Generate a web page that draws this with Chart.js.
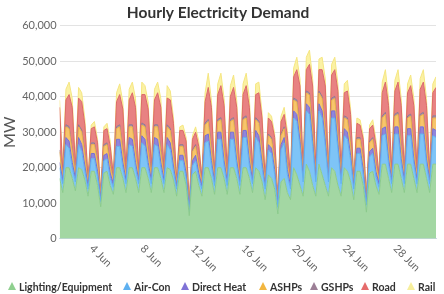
<!DOCTYPE html>
<html>
<head>
<meta charset="utf-8">
<script src="https://cdn.jsdelivr.net/npm/chart.js@4.4.1/dist/chart.umd.min.js"></script>
<style>
  html, body { margin: 0; padding: 0; background: #fff; }
  #wrap { position: relative; width: 444px; height: 294px; overflow: hidden; }
  #legend { position: absolute; left: 0; top: 280px; width: 444px; height: 14px;
    font: bold 10.5px Lato, "Open Sans", sans-serif; color: #333; }
  .item { position: absolute; top: 0; white-space: nowrap; line-height: 14px; }
  .tri { display: inline-block; width: 0; height: 0; margin-right: 3px; vertical-align: 1px;
    border-left: 4.5px solid transparent; border-right: 4.5px solid transparent; border-bottom: 8px solid #999; }
</style>
</head>
<body>
<div id="wrap">
  <canvas id="chart" width="444" height="294"></canvas>
  <div id="legend"></div>
</div>
<script>
/* samples every 6 hours, 1 Jun 00:00 -> 30 Jun 18:00 (one line per day: 00h, 06h, 12h, 18h) */
const stepHours = 6;

const tickHours = [72, 168, 264, 360, 456, 552, 648];
const tickLabels = ["4 Jun", "8 Jun", "12 Jun", "16 Jun", "20 Jun", "24 Jun", "28 Jun"];

const lighting = [
  17000, 13000, 20000, 20000,
  17000, 13500, 20000, 19500,
  16500, 12000, 19000, 19000,
  15000, 9000, 18500, 19000,
  15000, 12500, 20000, 20000,
  17000, 13000, 20000, 20000,
  17000, 13000, 20000, 20000,
  17000, 13000, 20000, 20000,
  17000, 13000, 20000, 19500,
  16500, 12000, 19000, 19000,
  15000, 6500, 18000, 19000,
  15000, 12000, 20000, 20000,
  17000, 12500, 20000, 20000,
  17000, 12500, 20000, 20000,
  17000, 12500, 20000, 20000,
  17000, 13000, 20000, 19000,
  16000, 11000, 18000, 17000,
  14000, 7000, 16000, 17000,
  13000, 11000, 20000, 18000,
  15000, 12000, 21000, 19000,
  15000, 12000, 21000, 18000,
  15000, 12000, 20000, 19000,
  15000, 12000, 20000, 19000,
  16000, 11000, 19000, 19000,
  15000, 7500, 18500, 19000,
  15000, 12500, 21000, 21000,
  17000, 13000, 21000, 21000,
  17000, 13000, 21000, 21000,
  17000, 13000, 21000, 21000,
  17000, 13000, 21000, 21000
];

const airCon = [
  3000, 2500, 6500, 5500,
  3000, 2500, 6500, 5000,
  2500, 2000, 3500, 3500,
  2500, 1500, 3500, 3500,
  2000, 2000, 6000, 6000,
  3000, 2500, 6500, 6000,
  3000, 2500, 7000, 6000,
  3000, 2500, 6500, 6000,
  3000, 2500, 6500, 5500,
  2500, 2000, 3000, 3000,
  2000, 1000, 2500, 3000,
  2000, 2000, 7000, 7500,
  3500, 2500, 8000, 8000,
  3500, 2500, 8000, 8000,
  3500, 2500, 8500, 8500,
  3500, 2500, 8500, 8000,
  4000, 3000, 7000, 7000,
  4000, 2000, 9000, 10000,
  5000, 3000, 14000, 15000,
  11000, 4000, 15000, 16000,
  11000, 4000, 15000, 16000,
  11000, 4000, 14000, 15000,
  10000, 3500, 9000, 9000,
  6000, 3000, 5000, 5000,
  3000, 2000, 4500, 5000,
  2500, 2000, 8000, 8500,
  4000, 2500, 8500, 8500,
  4000, 2500, 8000, 8000,
  4000, 2500, 8500, 8500,
  4000, 2500, 8000, 7500
];

const directHeat = [
  1500, 1000, 2000, 2000,
  1500, 1000, 2000, 2000,
  1500, 800, 1500, 1500,
  1500, 800, 1500, 1500,
  1500, 1000, 2000, 2000,
  1500, 1000, 2000, 2000,
  1500, 1000, 2000, 2000,
  1500, 1000, 2000, 2000,
  1500, 1000, 2000, 2000,
  1500, 800, 1500, 1500,
  1500, 800, 1500, 1500,
  1500, 1000, 2000, 2000,
  1500, 1000, 2000, 2000,
  1500, 1000, 2000, 2000,
  1500, 1000, 2000, 2000,
  1500, 1000, 2000, 2000,
  1500, 800, 1500, 1500,
  1500, 800, 1500, 1500,
  1500, 1000, 2000, 2000,
  1500, 1000, 2000, 2000,
  1500, 1000, 2000, 2000,
  1500, 1000, 2000, 2000,
  1500, 1000, 2000, 2000,
  1500, 800, 1500, 1500,
  1500, 800, 1500, 1500,
  1500, 1000, 2000, 2000,
  1500, 1000, 2000, 2000,
  1500, 1000, 2000, 2000,
  1500, 1000, 2000, 2000,
  1500, 1000, 2000, 2000
];

const ashps = [
  3000, 1000, 3000, 3500,
  3000, 1000, 3000, 3500,
  3000, 800, 2500, 2500,
  2500, 800, 2500, 2500,
  2000, 1000, 3000, 3500,
  3000, 1000, 3000, 3500,
  3000, 1000, 3000, 3500,
  3000, 1000, 3000, 3500,
  3000, 1000, 3000, 3500,
  3000, 800, 2500, 2500,
  2500, 800, 2500, 2500,
  2000, 1000, 3000, 3500,
  3000, 1000, 3000, 3500,
  3000, 1000, 3000, 3500,
  3000, 1000, 3000, 3500,
  3000, 1000, 3000, 3500,
  3000, 800, 2500, 2500,
  2500, 800, 2500, 2500,
  2000, 1000, 3000, 3500,
  3000, 1000, 3000, 3500,
  3000, 1000, 3000, 3500,
  3000, 1000, 3000, 3500,
  3000, 1000, 3000, 3500,
  3000, 800, 2500, 2500,
  2500, 800, 2500, 2500,
  2000, 1000, 3000, 3500,
  3000, 1000, 3000, 3500,
  3000, 1000, 3000, 3500,
  3000, 1000, 3000, 3500,
  3000, 1000, 3000, 3500
];

const gshps = [
  500, 300, 600, 600,
  500, 300, 600, 600,
  500, 200, 500, 500,
  500, 200, 500, 500,
  500, 300, 600, 600,
  500, 300, 600, 600,
  500, 300, 600, 600,
  500, 300, 600, 600,
  500, 300, 600, 600,
  500, 200, 500, 500,
  500, 200, 500, 500,
  500, 300, 600, 600,
  500, 300, 600, 600,
  500, 300, 600, 600,
  500, 300, 600, 600,
  500, 300, 600, 600,
  500, 200, 500, 500,
  500, 200, 500, 500,
  500, 300, 600, 600,
  500, 300, 600, 600,
  500, 300, 600, 600,
  500, 300, 600, 600,
  500, 300, 600, 600,
  500, 200, 500, 500,
  500, 200, 500, 500,
  500, 300, 600, 600,
  500, 300, 600, 600,
  500, 300, 600, 600,
  500, 300, 600, 600,
  500, 300, 600, 600
];

const road = [
  12000, 1500, 7000, 9000,
  12000, 2500, 7500, 8000,
  8000, 1000, 4000, 4500,
  5000, 500, 4000, 4000,
  5000, 1000, 7000, 8500,
  11500, 2000, 7000, 9000,
  12000, 1500, 8000, 8500,
  11500, 2500, 7000, 9000,
  12000, 1500, 7500, 8000,
  8500, 1000, 4000, 4000,
  6000, 500, 3000, 3500,
  5000, 1000, 6000, 9000,
  11500, 1500, 7000, 9000,
  12000, 2000, 6500, 8500,
  11500, 1500, 6500, 8500,
  11500, 2000, 6500, 8000,
  9000, 1000, 4500, 4500,
  6000, 500, 3500, 3500,
  7000, 1000, 6000, 8500,
  12000, 1500, 6000, 8000,
  12000, 2000, 6000, 7500,
  12000, 1500, 6500, 7500,
  11500, 1500, 6500, 7500,
  8000, 1000, 4000, 3500,
  5500, 500, 3500, 3500,
  5000, 1000, 6500, 8500,
  11500, 2000, 6500, 8500,
  11500, 1500, 6500, 8000,
  11500, 2000, 7000, 8500,
  11500, 1500, 6500, 8000
];

const rail = [
  2000, 500, 3000, 3500,
  2500, 500, 3000, 2500,
  1500, 300, 1000, 1500,
  1000, 300, 1000, 1500,
  1500, 500, 2500, 3000,
  2000, 500, 3000, 3000,
  2500, 500, 3500, 2500,
  2000, 500, 3000, 3000,
  2500, 500, 3500, 2500,
  1500, 300, 1000, 1500,
  1000, 300, 1000, 1500,
  1500, 500, 2500, 4000,
  2000, 500, 3000, 3500,
  2000, 500, 3000, 3500,
  2000, 500, 3000, 3500,
  2500, 500, 3000, 3000,
  1500, 300, 1500, 1500,
  1000, 300, 1500, 2000,
  1500, 500, 2500, 3500,
  2000, 500, 3500, 4000,
  2000, 500, 3000, 3500,
  2000, 500, 3000, 3500,
  2000, 500, 2500, 3000,
  1500, 300, 1500, 1500,
  1000, 300, 1000, 1500,
  1500, 500, 3000, 3500,
  2000, 500, 3000, 3500,
  2000, 500, 2500, 3000,
  2000, 500, 3000, 3500,
  2000, 500, 2500, 3000
];

const seriesNames = ["Lighting/Equipment", "Air-Con", "Direct Heat", "ASHPs", "GSHPs", "Road", "Rail"];
const seriesValues = [lighting, airCon, directHeat, ashps, gshps, road, rail];
const fillColors = ["#a3d7a3", "#7ec4f7", "#8f85dc", "#f7c56c", "#a98fa6", "#e88282", "#fbf1a4"];
const lineColors = ["#8ccb8c", "#62b2ee", "#7a6ed0", "#eeb24a", "#94788f", "#dc6a6a", "#f5e682"];
const legendColors = ["#8fd08f", "#5eb0f0", "#7f72d6", "#f2b640", "#9c7f96", "#e56b6b", "#f7ef9c"];
const legendLeft = [8, 123, 181, 259, 310, 361, 407];

const fontFamily = "Lato, 'Open Sans', sans-serif";

function toPoints(arr){
  return arr.map((v, i) => ({ x: i * stepHours, y: v }));
}

/* legend below the chart */
const legendEl = document.getElementById("legend");
seriesNames.forEach((name, i) => {
  const item = document.createElement("span");
  item.className = "item";
  item.style.left = legendLeft[i] + "px";
  item.innerHTML = `<span class="tri" style="border-bottom-color:${legendColors[i]}"></span>${name}`;
  legendEl.appendChild(item);
});

/* x labels slanting down to the right, starting at each tick */
const slantedLabels = {
  id: "slantedLabels",
  afterDraw(chart){
    const xs = chart.scales.x;
    const ctx = chart.ctx;
    ctx.save();
    ctx.fillStyle = "#666";
    ctx.font = "11px " + fontFamily;
    ctx.textAlign = "left";
    ctx.textBaseline = "middle";
    tickHours.forEach((h, i) => {
      const x = xs.getPixelForValue(h);
      ctx.save();
      ctx.translate(x - 6, xs.top + 8);
      ctx.rotate(Math.PI / 4);
      ctx.fillText(tickLabels[i], 0, 0);
      ctx.restore();
    });
    ctx.restore();
  }
};

const datasets = seriesNames.map((name, i) => ({
  label: name,
  data: toPoints(seriesValues[i]),
  backgroundColor: fillColors[i],
  borderColor: lineColors[i],
  borderWidth: 1,
  pointRadius: 0,
  fill: i === 0 ? "origin" : "-1",
  tension: 0
}));

const lastHour = (lighting.length - 1) * stepHours;

new Chart(document.getElementById("chart"), {
  type: "line",
  data: { datasets },
  plugins: [slantedLabels],
  options: {
    responsive: false,
    animation: false,
    layout: { padding: { left: 0, right: 8, top: 2, bottom: 9 } },
    plugins: {
      title: {
        display: true,
        text: "Hourly Electricity Demand",
        color: "#333",
        font: { family: fontFamily, size: 15.5, weight: "bold" },
        padding: { top: 2, bottom: 3 }
      },
      legend: { display: false },
      tooltip: { enabled: false }
    },
    scales: {
      x: {
        type: "linear",
        min: 0,
        max: lastHour,
        grid: { display: false },
        border: { color: "#ccd6eb" },
        afterBuildTicks: axis => { axis.ticks = tickHours.map(v => ({ value: v })); },
        ticks: {
          autoSkip: false,
          maxRotation: 45,
          minRotation: 45,
          color: "rgba(0,0,0,0)",
          font: { family: fontFamily, size: 11 },
          callback: value => tickLabels[tickHours.indexOf(value)]
        }
      },
      y: {
        stacked: true,
        min: 0,
        max: 60000,
        ticks: {
          stepSize: 10000,
          color: "#666",
          padding: 3,
          font: { family: fontFamily, size: 11 },
          callback: v => v.toLocaleString("en-US")
        },
        grid: { color: "#e3e3e3", drawTicks: false },
        border: { display: false },
        title: {
          display: true,
          text: "MW",
          color: "#555",
          font: { family: fontFamily, size: 16 },
          padding: { top: 0, bottom: 0 }
        }
      }
    }
  }
});
</script>
</body>
</html>
